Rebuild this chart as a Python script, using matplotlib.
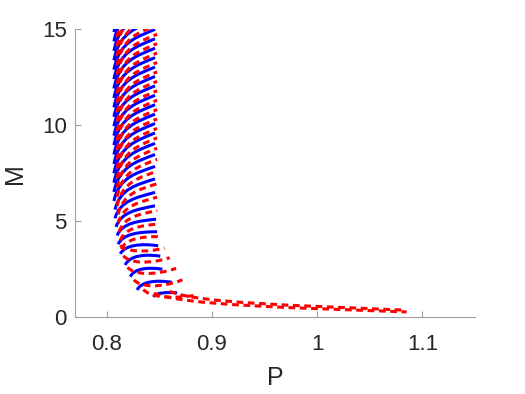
import matplotlib
matplotlib.use("Agg")
import matplotlib.pyplot as plt
from matplotlib.path import Path
from matplotlib.patches import PathPatch

# each arc: left end (pl, ml), right end (pr, mr), crest level mt
blue_pl = [0.8444, 0.829, 0.8225, 0.8177, 0.813, 0.811, 0.810, 0.809, 0.808, 0.808,
           0.807, 0.807, 0.807, 0.807, 0.807, 0.807, 0.807, 0.807, 0.807, 0.807,
           0.807, 0.807, 0.807, 0.807, 0.807, 0.807, 0.807, 0.807, 0.807]
blue_ml = [1.06, 1.42, 2.11, 2.72, 3.30, 3.80, 4.25, 4.70, 5.15, 5.60,
           6.05, 6.52, 7.00, 7.49, 7.98, 8.47, 8.96, 9.45, 9.94, 10.43,
           10.92, 11.41, 11.90, 12.39, 12.88, 13.37, 13.86, 14.35, 14.84]
blue_pr = [0.867, 0.862, 0.853, 0.851, 0.849, 0.848, 0.847, 0.846, 0.846, 0.846,
           0.846, 0.846, 0.846, 0.846, 0.846, 0.846, 0.846, 0.846, 0.846, 0.846,
           0.846, 0.846, 0.846, 0.846, 0.846, 0.846, 0.846, 0.846, 0.846]
blue_mr = [1.27, 1.82, 2.50, 3.18, 3.72, 4.45, 5.10, 5.80, 6.50, 7.20,
           7.85, 8.47, 9.05, 9.59, 10.08, 10.57, 11.06, 11.55, 12.04, 12.53,
           13.02, 13.51, 14.00, 14.49, 14.98, 15.47, 15.96, 16.45, 16.94]
blue_mt = [1.32, 1.95, 2.62, 3.30, 3.85, 4.45, 5.02, 5.62, 6.24, 6.90,
           7.51, 8.10, 8.66, 9.19, 9.68, 10.17, 10.66, 11.15, 11.64, 12.13,
           12.62, 13.11, 13.60, 14.09, 14.58, 15.07, 15.56, 16.05, 16.54]

red_pl = [0.845, 0.860, 0.835, 0.826, 0.820, 0.816, 0.813, 0.814, 0.813, 0.812,
          0.811, 0.811, 0.810, 0.810, 0.810, 0.810, 0.810, 0.810, 0.810, 0.810,
          0.810, 0.810, 0.810, 0.810, 0.810, 0.810, 0.810, 0.810, 0.810, 0.810,
          0.810]
red_ml = [1.25, 1.35, 1.45, 1.95, 2.60, 3.20, 3.75, 3.55, 4.00, 4.45,
          4.90, 5.35, 5.80, 6.27, 6.75, 7.24, 7.73, 8.22, 8.71, 9.20,
          9.69, 10.18, 10.67, 11.16, 11.65, 12.14, 12.63, 13.12, 13.61, 14.10,
          14.59]
red_pr = [1.085, 1.080, 0.885, 0.872, 0.866, 0.860, 0.855, 0.850, 0.849, 0.848,
          0.848, 0.848, 0.848, 0.848, 0.848, 0.848, 0.848, 0.848, 0.848, 0.848,
          0.848, 0.848, 0.848, 0.848, 0.848, 0.848, 0.848, 0.848, 0.848, 0.848,
          0.848]
red_mr = [0.28, 0.38, 1.15, 1.95, 2.55, 3.10, 3.60, 4.20, 4.85, 5.55,
          6.25, 6.95, 7.60, 8.22, 8.80, 9.34, 9.83, 10.32, 10.81, 11.30,
          11.79, 12.28, 12.77, 13.26, 13.75, 14.24, 14.73, 15.22, 15.71, 16.20,
          16.69]
red_mt = [0.50, 0.62, 0.95, 1.50, 2.15, 2.75, 3.35, 4.20, 4.77, 5.37,
          5.99, 6.65, 7.26, 7.85, 8.41, 8.94, 9.43, 9.92, 10.41, 10.90,
          11.39, 11.88, 12.37, 12.86, 13.35, 13.84, 14.33, 14.82, 15.31, 15.80,
          16.29]


def arc(pl, ml, pr, mr, mt):
    w = pr - pl
    verts = [(pl, ml), (pl + 0.12 * w, ml + 0.85 * (mt - ml)),
             (pl + 0.55 * w, mt), (pr, mr)]
    codes = [Path.MOVETO, Path.CURVE4, Path.CURVE4, Path.CURVE4]
    return Path(verts, codes)


fig = plt.figure(figsize=(5.25, 3.94), dpi=100)
ax = fig.add_axes([0.1429, 0.1947, 0.7619, 0.7317])

for i in range(len(blue_pl)):
    p = arc(blue_pl[i], blue_ml[i], blue_pr[i], blue_mr[i], blue_mt[i])
    ax.add_patch(PathPatch(p, fill=False, edgecolor='blue', lw=2.2))
for i in range(len(red_pl)):
    p = arc(red_pl[i], red_ml[i], red_pr[i], red_mr[i], red_mt[i])
    ax.add_patch(PathPatch(p, fill=False, edgecolor='red', lw=2.2,
                           linestyle=(0, (2.2, 1.5))))

ax.set_xlim(0.77, 1.15)
ax.set_ylim(0, 15)
ax.set_xticks([0.8, 0.9, 1.0, 1.1])
ax.set_xticklabels(['0.8', '0.9', '1', '1.1'])
ax.set_yticks([0, 5, 10, 15])
for s in ['top', 'right']:
    ax.spines[s].set_visible(False)
for s in ['left', 'bottom']:
    ax.spines[s].set_color('#a0a0a0')
ax.tick_params(direction='in', length=4, color='#a0a0a0', labelsize=16,
               labelcolor='#262626')
ax.tick_params(axis='x', pad=12)
ax.tick_params(axis='y', pad=6)
for lab in ax.get_xticklabels() + ax.get_yticklabels():
    lab.set_family('Liberation Sans')
ax.set_xlabel('P', fontsize=18, family='Liberation Sans', color='#262626', labelpad=8)
ax.set_ylabel('M', fontsize=18, family='Liberation Sans', color='#262626', labelpad=11)

fig.savefig('out.png', dpi=100)
